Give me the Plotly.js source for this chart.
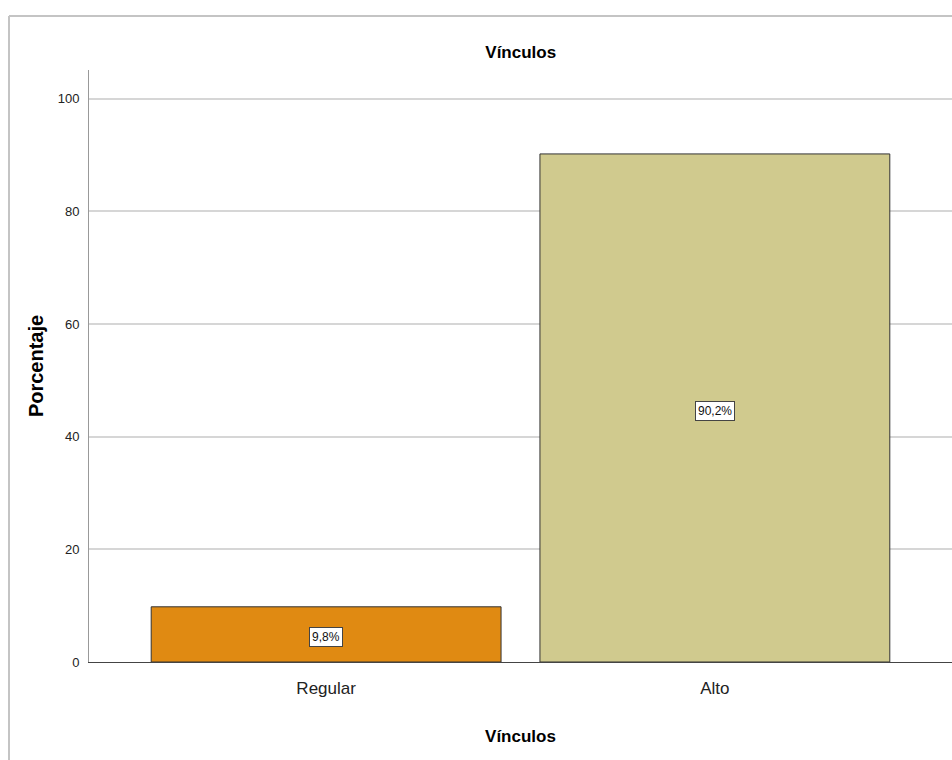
<!DOCTYPE html>
<html>
<head>
<meta charset="utf-8">
<script src="https://cdn.plot.ly/plotly-3.0.1.min.js"></script>
<style>html,body{margin:0;padding:0;background:#fff;}#chart{width:952px;height:760px;}</style>
</head>
<body>
<div id="chart"></div>
<script>
const categories = ["Regular", "Alto"];
const percentages = [9.8, 90.2];
const labels = ["9,8%", "90,2%"];
const barColors = ["#e08a12", "#d0ca8e"];
const yTicks = [0, 20, 40, 60, 80, 100];

const narrow = "Liberation Sans Narrow, Arial Narrow, Liberation Sans, Arial, sans-serif";

const trace = {
  type: "bar",
  x: categories,
  y: percentages,
  width: 0.9,
  marker: { color: barColors, line: { color: "#333333", width: 1 } },
  hoverinfo: "none"
};

const annotations = categories.map((c, i) => ({
  x: c, y: percentages[i] / 2, xref: "x", yref: "y", yshift: -3,
  text: labels[i], showarrow: false,
  font: { family: narrow, size: 12, color: "#111" },
  bgcolor: "#ffffff", bordercolor: "#444", borderwidth: 1, borderpad: 2
}));

const layout = {
  width: 952, height: 760,
  margin: { l: 89, r: 0, t: 70, b: 98 },
  paper_bgcolor: "#ffffff", plot_bgcolor: "#ffffff",
  showlegend: false,
  title: { text: "<b>Vínculos</b>", x: 0.547, xanchor: "center", y: 0.931, yanchor: "middle",
           font: { family: narrow, size: 17, color: "#000" } },
  xaxis: {
    type: "category", range: [-0.61, 1.61],
    showgrid: false, zeroline: false,
    showline: true, linecolor: "#444", linewidth: 1,
    ticks: "", ticklabelstandoff: 11,
    tickfont: { family: narrow, size: 17, color: "#222" },
    title: { text: "<b>Vínculos</b>", standoff: 32, font: { family: narrow, size: 17, color: "#000" } },
    fixedrange: true
  },
  yaxis: {
    range: [0, 105.1], tickvals: yTicks, ticktext: yTicks.map(String),
    showgrid: true, gridcolor: "#d6d6d6", gridwidth: 2, zeroline: false,
    showline: true, linecolor: "#999", linewidth: 1,
    ticks: "", ticklabelstandoff: 6,
    tickfont: { family: narrow, size: 13, color: "#222" },
    title: { text: "<b>Porcentaje</b>", standoff: 8, font: { family: "Liberation Sans, Arial, sans-serif", size: 20, color: "#000" } },
    fixedrange: true
  },
  shapes: [
    { type: "line", xref: "paper", yref: "paper", x0: -0.0927, x1: 1.2, y0: 1.0912, y1: 1.0912,
      line: { color: "#c4c4c4", width: 2 } },
    { type: "line", xref: "paper", yref: "paper", x0: -0.0927, x1: -0.0927, y0: 1.0912, y1: -0.3,
      line: { color: "#c4c4c4", width: 2 } }
  ],
  annotations: annotations
};

Plotly.newPlot("chart", [trace], layout, { displayModeBar: false, staticPlot: true });
</script>
</body>
</html>
